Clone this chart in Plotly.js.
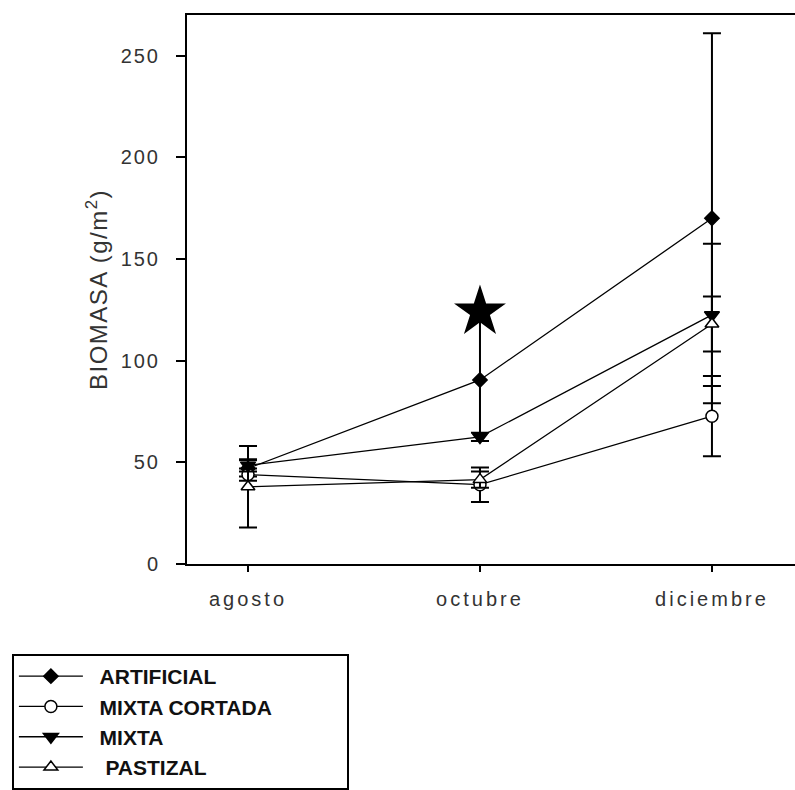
<!DOCTYPE html>
<html>
<head>
<meta charset="utf-8">
<script src="https://cdn.plot.ly/plotly-3.0.1.min.js"></script>
<style>
html,body{margin:0;padding:0;background:#fff;}
#chart{width:795px;height:790px;}
.xtick text{letter-spacing:3px;}
.ytick text{letter-spacing:2px;}
.ytitle{letter-spacing:1.5px;}
</style>
</head>
<body>
<div id="chart"></div>
<script>
var months = ['agosto', 'octubre', 'diciembre'];
var yTickVals = [0, 50, 100, 150, 200, 250];

var artificial = [47, 90.5, 170];
var artificialErr = [4, 30, 91];

var mixtaCortada = [44, 39, 72.7];
var mixtaCortadaErr = [3, 8.5, 19.7];

var mixta = [48.5, 62.5, 122.5];
var mixtaErr = [3, 2, 35];

var pastizal = [38, 41.5, 118];
var pastizalErr = [20, 4, 13.5];

var starMonth = ['octubre'];
var starValue = [124];

var legendNames = ['ARTIFICIAL', 'MIXTA CORTADA', 'MIXTA', 'PASTIZAL'];

var NB = '\u00a0';
function pad(s, lead, trail) {
  return NB.repeat(lead) + s + NB.repeat(trail);
}

function series(name, y, err, symbol, fill, size) {
  return {
    type: 'scatter', mode: 'lines+markers', name: name,
    x: months, y: y,
    line: {color: '#000', width: 1.3},
    marker: {symbol: symbol, size: size, color: fill, line: {color: '#000', width: 1.5}},
    error_y: {type: 'data', array: err, visible: true, color: '#000', thickness: 2, width: 9}
  };
}

var data = [
  series(pad(legendNames[0], 2, 0), artificial, artificialErr, 'diamond', '#000', 11),
  series(pad(legendNames[1], 2, 12), mixtaCortada, mixtaCortadaErr, 'circle', '#fff', 12),
  series(pad(legendNames[2], 2, 0), mixta, mixtaErr, 'triangle-down', '#000', 13),
  series(pad(legendNames[3], 3, 0), pastizal, pastizalErr, 'triangle-up', '#fff', 12),
  {
    type: 'scatter', mode: 'markers', x: starMonth, y: starValue, showlegend: false,
    marker: {symbol: 'star', size: 39, color: '#000'}, hoverinfo: 'skip'
  }
];

var layout = {
  width: 795, height: 790,
  margin: {l: 187, r: 0, t: 15, b: 225},
  paper_bgcolor: '#fff', plot_bgcolor: '#fff',
  font: {family: 'Liberation Sans, Arial, sans-serif', color: '#333'},
  xaxis: {
    type: 'category', range: [-0.263, 2.358],
    showgrid: false, zeroline: false,
    showline: true, linecolor: '#000', linewidth: 2, mirror: true,
    ticks: 'outside', ticklen: 6, tickwidth: 2, tickcolor: '#000',
    tickfont: {size: 20, color: '#333'}, ticklabelstandoff: 10
  },
  yaxis: {
    range: [0, 270], tickvals: yTickVals,
    showgrid: false, zeroline: false,
    showline: true, linecolor: '#000', linewidth: 2,
    ticks: 'outside', ticklen: 9, tickwidth: 2, tickcolor: '#000',
    tickfont: {size: 20, color: '#333'}, ticklabelstandoff: 12,
    title: {text: 'BIOMASA (g/m<sup>2</sup>)', font: {size: 24, color: '#333'}, standoff: 6}
  },
  showlegend: true,
  legend: {
    x: -0.288, xanchor: 'left', y: -0.1636, yanchor: 'top',
    bgcolor: '#fff', bordercolor: '#000', borderwidth: 2,
    font: {family: 'Liberation Sans, Arial, sans-serif', size: 21, color: '#111', weight: 'bold'},
    itemwidth: 64, traceorder: 'normal', tracegroupgap: 0
  }
};

Plotly.newPlot('chart', data, layout, {displayModeBar: false, staticPlot: true});
</script>
</body>
</html>
